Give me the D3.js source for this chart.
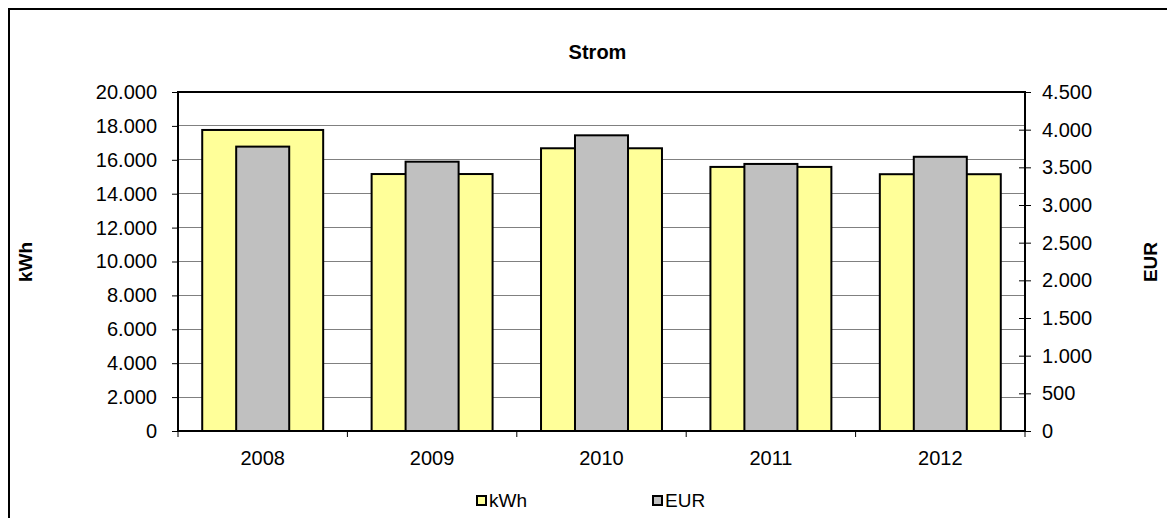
<!DOCTYPE html>
<html>
<head>
<meta charset="utf-8">
<script src="https://cdn.jsdelivr.net/npm/d3@7"></script>
<style>
  html, body { margin: 0; padding: 0; background: #fff; }
  svg { display: block; font-family: "Liberation Sans", Arial, sans-serif; }
</style>
</head>
<body>
<svg id="chart" width="1167" height="518"></svg>
<script>
// Jahresverbrauch Strom: Energie (kWh, linke Achse) und Kosten (EUR, rechte Achse)
const years = ["2008", "2009", "2010", "2011", "2012"];
const kwh = [17760, 15160, 16680, 15580, 15150];
const eur = [3775, 3575, 3925, 3545, 3640];
const kwhTicks = [0, 2000, 4000, 6000, 8000, 10000, 12000, 14000, 16000, 18000, 20000];
const eurTicks = [0, 500, 1000, 1500, 2000, 2500, 3000, 3500, 4000, 4500];

const de = d3.formatLocale({ decimal: ",", thousands: ".", grouping: [3], currency: ["", " €"] });
const fmt = de.format(",d");

const svg = d3.select("#chart");
const plot = { left: 178, right: 1025, top: 92, bottom: 431 };
const FONT = "'Liberation Sans', Arial, sans-serif";

// Rahmen des Diagrammbereichs
svg.append("rect")
  .attr("x", 9).attr("y", 9)
  .attr("width", 1200).attr("height", 600)
  .attr("fill", "#fff").attr("stroke", "#000").attr("stroke-width", 2);

const x = d3.scaleBand().domain(years).range([plot.left, plot.right]).padding(0);
const yL = d3.scaleLinear().domain([0, 20000]).range([plot.bottom, plot.top]);
const yR = d3.scaleLinear().domain([0, 4500]).range([plot.bottom, plot.top]);

// Hilfslinien
svg.append("g").selectAll("line").data(kwhTicks.slice(1, -1)).join("line")
  .attr("x1", plot.left).attr("x2", plot.right)
  .attr("y1", d => yL(d)).attr("y2", d => yL(d))
  .attr("stroke", "#808080").attr("stroke-width", 1).attr("shape-rendering", "crispEdges");

const step = x.step();
const wideW = step * 0.714;
const narrowW = step * 0.313;

// kWh-Balken
svg.append("g").selectAll("rect").data(years).join("rect")
  .attr("x", (d) => x(d) + step / 2 - wideW / 2)
  .attr("width", wideW)
  .attr("y", (d, i) => yL(kwh[i]))
  .attr("height", (d, i) => yL(0) - yL(kwh[i]))
  .attr("fill", "#FFFF99").attr("stroke", "#000").attr("stroke-width", 2);

// EUR-Balken
svg.append("g").selectAll("rect").data(years).join("rect")
  .attr("x", (d) => x(d) + step / 2 - narrowW / 2)
  .attr("width", narrowW)
  .attr("y", (d, i) => yR(eur[i]))
  .attr("height", (d, i) => yR(0) - yR(eur[i]))
  .attr("fill", "#C0C0C0").attr("stroke", "#000").attr("stroke-width", 2);

// Zeichnungsfläche
svg.append("rect")
  .attr("x", plot.left).attr("y", plot.top)
  .attr("width", plot.right - plot.left).attr("height", plot.bottom - plot.top)
  .attr("fill", "none").attr("stroke", "#000").attr("stroke-width", 2);

const fontSize = 20;

// linke Achse
const leftAxis = svg.append("g").attr("transform", `translate(${plot.left},0)`)
  .call(d3.axisLeft(yL).tickValues(kwhTicks).tickFormat(fmt).tickSize(6).tickPadding(15));
leftAxis.select(".domain").remove();
leftAxis.selectAll(".tick line").attr("stroke", "#000");
leftAxis.selectAll(".tick text").attr("font-size", fontSize)
  .attr("fill", "#000").attr("font-family", FONT);

// rechte Achse
const rightAxis = svg.append("g").attr("transform", `translate(${plot.right},0)`)
  .call(d3.axisRight(yR).tickValues(eurTicks).tickFormat(fmt).tickSize(6).tickPadding(11));
rightAxis.select(".domain").remove();
rightAxis.selectAll(".tick line").attr("x1", -6).attr("stroke", "#000");
rightAxis.selectAll(".tick text").attr("font-size", fontSize)
  .attr("fill", "#000").attr("font-family", FONT);

// Kategorienachse
const xAxis = svg.append("g").attr("transform", `translate(0,${plot.bottom})`)
  .call(d3.axisBottom(x).tickSize(0).tickPadding(20));
xAxis.select(".domain").remove();
xAxis.selectAll(".tick text").attr("font-size", fontSize)
  .attr("fill", "#000").attr("font-family", FONT);
const bounds = years.map(d => x(d)).concat([plot.right]);
svg.append("g").selectAll("line").data(bounds).join("line")
  .attr("x1", d => d).attr("x2", d => d)
  .attr("y1", plot.bottom).attr("y2", plot.bottom + 6)
  .attr("stroke", "#000");

// Titel
svg.append("text").attr("x", (plot.left + plot.right) / 2 - 4).attr("y", 59)
  .attr("text-anchor", "middle").attr("font-weight", "bold").attr("font-size", 20)
  .text("Strom");

// Achsentitel
svg.append("text").attr("transform", "translate(32,262) rotate(-90)")
  .attr("text-anchor", "middle").attr("font-weight", "bold").attr("font-size", 19)
  .text("kWh");
svg.append("text").attr("transform", "translate(1157,262) rotate(-90)")
  .attr("text-anchor", "middle").attr("font-weight", "bold").attr("font-size", 19)
  .text("EUR");

// Legende
const legend = [
  { label: "kWh", fill: "#FFFF99", x: 477 },
  { label: "EUR", fill: "#C0C0C0", x: 653 }
];
const lg = svg.append("g").selectAll("g").data(legend).join("g")
  .attr("transform", d => `translate(${d.x},496)`);
lg.append("rect").attr("width", 9).attr("height", 9)
  .attr("fill", d => d.fill).attr("stroke", "#000").attr("stroke-width", 2);
lg.append("text").attr("x", 12).attr("y", 11).attr("font-size", 19)
  .text(d => d.label);
</script>
</body>
</html>
